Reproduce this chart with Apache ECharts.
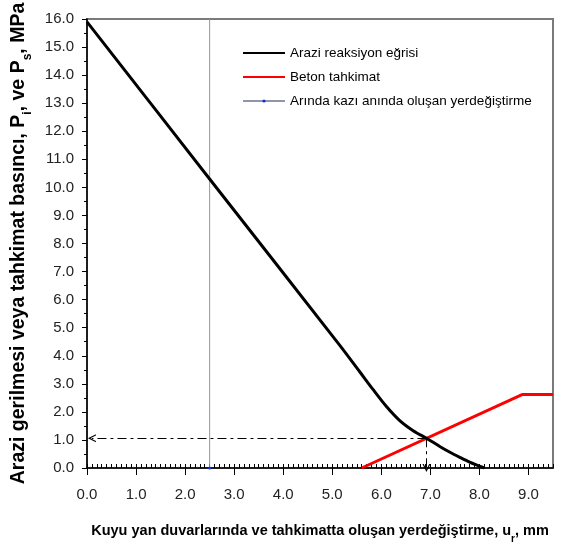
<!DOCTYPE html>
<html>
<head>
<meta charset="utf-8">
<script src="https://cdn.jsdelivr.net/npm/echarts@6/dist/echarts.min.js"></script>
<style>
  html, body { margin: 0; padding: 0; background: #fff; }
  #chart { width: 566px; height: 544px; }
</style>
</head>
<body>
<div id="chart"></div>
<script>
// Ground reaction curve (displacement in mm, pressure in MPa)
const groundX = [0, 2.5, 5.15, 5.56, 5.83, 6.1, 6.37, 6.65, 6.92, 7.2, 7.4, 7.6, 7.8, 8.0, 8.1];
const groundY = [15.9, 10.3, 4.38, 3.43, 2.8, 2.2, 1.7, 1.33, 1.06, 0.76, 0.56, 0.38, 0.21, 0.07, 0];

// Concrete lining support line
const supportX = [5.6, 8.88, 9.5];
const supportY = [0, 2.62, 2.62];

// Displacement already developed at the face during excavation
const faceX = [2.5, 2.5];
const faceY = [0, 16];

// Equilibrium point (ground curve meets support line)
const equilibrium = [6.92, 1.06];

// Axis ticks
const xTicks = [0, 1, 2, 3, 4, 5, 6, 7, 8, 9];
const yTicks = [0, 1, 2, 3, 4, 5, 6, 7, 8, 9, 10, 11, 12, 13, 14, 15, 16];

const seriesNames = [
  'Arazi reaksiyon eğrisi',
  'Beton tahkimat',
  'Arında kazı anında oluşan yerdeğiştirme'
];

const FONT = '"Liberation Sans", Arial, sans-serif';
const pairs = (xs, ys) => xs.map((x, i) => [x, ys[i]]);

const arrowHead = 'path://M5,0 L10,10 L8.4,10 L5,3.2 L1.6,10 L0,10 Z';

const chart = echarts.init(document.getElementById('chart'), null, { renderer: 'canvas' });

const gridRect = { left: 87, right: 13, top: 19, bottom: 76, outerBoundsMode: 'none', containLabel: false };

const subStyle = (size, lh) => ({
  fontFamily: FONT, fontSize: size, fontWeight: 'bold', color: '#000',
  verticalAlign: 'bottom', lineHeight: lh, padding: [0, 0, -4, 0]
});

// face displacement: marker only where the line meets the axis
const faceData = pairs(faceX, faceY).map((p, i) => (i === 0 ? p : { value: p, symbol: 'none' }));

chart.setOption({
  animation: false,
  backgroundColor: '#fff',
  grid: [
    Object.assign({ show: true, borderColor: '#7a7a7a', borderWidth: 2, backgroundColor: 'transparent' }, gridRect),
    Object.assign({ show: false }, gridRect)
  ],
  legend: {
    orient: 'vertical',
    left: 237,
    top: 41,
    itemWidth: 42,
    itemHeight: 4,
    itemGap: 10,
    textStyle: { fontFamily: FONT, fontSize: 13.5, color: '#000' },
    data: [
      { name: seriesNames[0], itemStyle: { opacity: 0 } },
      { name: seriesNames[1], itemStyle: { opacity: 0 } },
      { name: seriesNames[2] }
    ]
  },
  xAxis: [
    {
      type: 'value',
      gridIndex: 0,
      min: 0,
      max: 9.5,
      interval: 1,
      name: 'Kuyu yan duvarlarında ve tahkimatta oluşan yerdeğiştirme, u{sub|r}, mm',
      nameLocation: 'middle',
      nameGap: 54,
      nameTextStyle: {
        fontFamily: FONT, fontSize: 14.5, fontWeight: 'bold', color: '#000', lineHeight: 18,
        rich: { sub: subStyle(10, 18) }
      },
      axisLine: { show: true, lineStyle: { color: '#000', width: 1.5 } },
      axisTick: { show: true, inside: false, length: 7, lineStyle: { color: '#000', width: 1 }, customValues: xTicks },
      axisLabel: {
        show: true, margin: 19, fontFamily: FONT, fontSize: 15, color: '#222',
        customValues: xTicks,
        formatter: v => v.toFixed(1)
      },
      splitLine: { show: false }
    },
    {
      type: 'value',
      gridIndex: 1,
      min: 0,
      max: 9.5,
      interval: 1,
      axisLine: { show: false },
      axisTick: { show: true, inside: true, length: 4, lineStyle: { color: '#000', width: 1 } },
      minorTick: { show: true, splitNumber: 10, length: 4, lineStyle: { color: '#000', width: 1 } },
      axisLabel: { show: false },
      splitLine: { show: false }
    }
  ],
  yAxis: [
    {
      type: 'value',
      gridIndex: 0,
      min: 0,
      max: 16,
      interval: 1,
      name: 'Arazi gerilmesi veya tahkimat basıncı, P{sub|i}, ve P{sub|s}, MPa',
      nameLocation: 'middle',
      nameGap: 52,
      nameTextStyle: {
        fontFamily: FONT, fontSize: 19.5, fontWeight: 'bold', color: '#000', lineHeight: 22,
        rich: { sub: subStyle(12, 22) }
      },
      axisLine: { show: true, lineStyle: { color: '#000', width: 1.5 } },
      axisTick: { show: true, inside: false, length: 5, lineStyle: { color: '#000', width: 1 }, customValues: yTicks },
      minorTick: { show: true, splitNumber: 2, length: 3, lineStyle: { color: '#000', width: 1 } },
      axisLabel: {
        show: true, margin: 13, fontFamily: FONT, fontSize: 15, color: '#222',
        customValues: yTicks,
        formatter: v => v.toFixed(1)
      },
      splitLine: { show: false }
    },
    {
      type: 'value',
      gridIndex: 1,
      min: 0,
      max: 16,
      show: false
    }
  ],
  series: [
    {
      name: seriesNames[2],
      type: 'line',
      xAxisIndex: 0,
      yAxisIndex: 0,
      data: faceData,
      symbol: 'circle',
      symbolSize: 3,
      showSymbol: true,
      itemStyle: { color: '#1030e0' },
      lineStyle: { color: '#8f96a8', width: 1 },
      z: 2
    },
    {
      name: seriesNames[0],
      type: 'line',
      xAxisIndex: 0,
      yAxisIndex: 0,
      data: pairs(groundX, groundY),
      symbol: 'none',
      smooth: 0.3,
      lineStyle: { color: '#000', width: 3 },
      itemStyle: { color: '#000' },
      z: 4,
      markLine: {
        silent: true,
        animation: false,
        symbol: ['none', arrowHead],
        symbolSize: [8, 8],
        label: { show: false },
        emphasis: { disabled: true },
        lineStyle: { color: '#000', width: 1, type: [9, 4, 3, 4] },
        data: [
          [{ coord: equilibrium }, { coord: [0.1, equilibrium[1]] }],
          [{ coord: equilibrium }, { coord: [equilibrium[0], 0] }]
        ]
      }
    },
    {
      name: seriesNames[1],
      type: 'line',
      xAxisIndex: 0,
      yAxisIndex: 0,
      data: pairs(supportX, supportY),
      symbol: 'none',
      lineStyle: { color: '#ff0000', width: 3 },
      itemStyle: { color: '#ff0000' },
      z: 3
    }
  ]
});
</script>
</body>
</html>
